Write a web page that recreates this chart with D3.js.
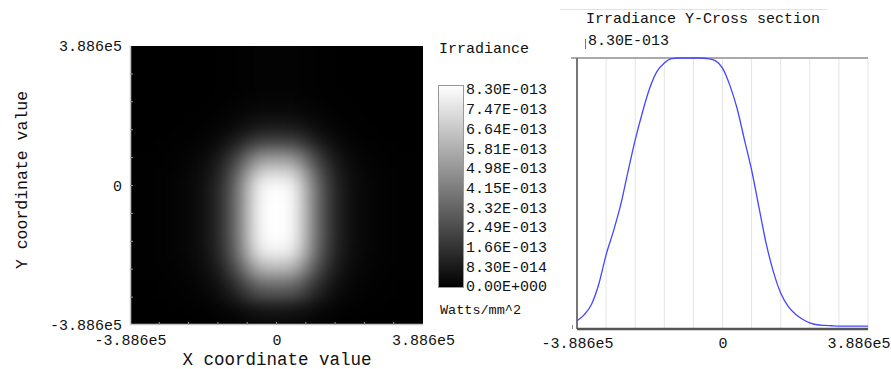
<!DOCTYPE html>
<html><head><meta charset="utf-8">
<script src="https://cdn.jsdelivr.net/npm/d3@7"></script>
<style>
body{margin:0;background:#fff}
svg{display:block}
text{font-family:"Liberation Mono","DejaVu Sans Mono",monospace;fill:#111}
</style>
</head><body>
<svg id="c" width="891" height="369"></svg>
<script>
// ---------------- data ----------------
const extent = 3.886e5;
const axisTickValues = [-3.886e5, 0, 3.886e5];
const axisTickLabels = ["-3.886e5", "0", "3.886e5"];
const colorMax = 8.30e-13;
const colorbarLabels = ["8.30E-013","7.47E-013","6.64E-013","5.81E-013","4.98E-013",
  "4.15E-013","3.32E-013","2.49E-013","1.66E-013","8.30E-014","0.00E+000"];
const crossTitle = "Irradiance Y-Cross section";
const crossMaxLabel = "8.30E-013";
// Irradiance along Y (x = 0), 41 samples from -3.886e5 to 3.886e5, units 1e-13 W/mm^2
const yProfile = [0.25,0.44,0.76,1.38,2.27,2.99,3.80,4.81,5.79,6.64,7.38,7.89,8.15,8.28,
  8.30,8.30,8.30,8.30,8.28,8.22,7.99,7.47,6.76,5.81,4.87,3.74,2.62,1.75,1.10,0.70,
  0.46,0.30,0.19,0.13,0.11,0.10,0.09,0.09,0.09,0.09,0.09];
// Relative irradiance along X (41 samples from -3.886e5 to 3.886e5)
const xProfileRel = [0.002,0.003,0.004,0.005,0.007,0.01,0.014,0.02,0.03,0.045,0.07,0.11,0.17,
  0.26,0.38,0.53,0.70,0.85,0.95,0.99,1.0,0.99,0.95,0.85,0.70,0.53,0.38,0.26,0.17,0.11,
  0.07,0.045,0.03,0.02,0.014,0.01,0.007,0.005,0.004,0.003,0.002];

// ---------------- drawing ----------------
const svg = d3.select("#c");
const N = yProfile.length;
const samples = d3.range(N).map(i => -extent + i * 2 * extent / (N - 1));
const yVals = yProfile.map(v => v * 1e-13);

const color = d3.scaleLinear().domain([0, colorMax]).range(["#000000", "#ffffff"]).clamp(true);

// Heatmap (separable: value = yProfile(y) * xProfileRel(x))
const hx = d3.scaleLinear().domain([-extent, extent]).range([130, 423]);
const hy = d3.scaleLinear().domain([-extent, extent]).range([325, 46]);
const hX0 = hx(-extent), hY0 = hy(extent), hW = hx(extent) - hx(-extent), hH = hy(-extent) - hy(extent);
const defs = svg.append("defs");

const ygrad = defs.append("linearGradient").attr("id", "ygrad")
  .attr("gradientUnits", "userSpaceOnUse")
  .attr("x1", hX0).attr("x2", hX0).attr("y1", hY0).attr("y2", hY0 + hH);
ygrad.selectAll("stop").data(samples.map((s, i) => ({s, v: yVals[i]})).reverse()).join("stop")
  .attr("offset", d => (hy(d.s) - hY0) / hH)
  .attr("stop-color", d => color(d.v));

const xgrad = defs.append("linearGradient").attr("id", "xgrad")
  .attr("gradientUnits", "userSpaceOnUse")
  .attr("x1", hX0).attr("x2", hX0 + hW).attr("y1", hY0).attr("y2", hY0);
xgrad.selectAll("stop").data(samples.map((s, i) => ({s, r: xProfileRel[i]}))).join("stop")
  .attr("offset", d => (hx(d.s) - hX0) / hW)
  .attr("stop-color", "#ffffff")
  .attr("stop-opacity", d => d.r);

const xmask = defs.append("mask").attr("id", "xmask")
  .attr("maskUnits", "userSpaceOnUse")
  .attr("x", hX0).attr("y", hY0).attr("width", hW).attr("height", hH)
  .style("mask-type", "alpha");
xmask.append("rect").attr("x", hX0).attr("y", hY0).attr("width", hW).attr("height", hH)
  .attr("fill", "url(#xgrad)");

svg.append("rect").attr("x", hX0).attr("y", hY0).attr("width", hW).attr("height", hH).attr("fill", "#000");
svg.append("rect").attr("x", hX0).attr("y", hY0).attr("width", hW).attr("height", hH)
  .attr("fill", "url(#ygrad)").attr("mask", "url(#xmask)");

// heatmap frame ticks (light gray)
const gridVals = d3.range(11).map(k => -extent + k * extent / 5);
svg.append("line").attr("x1", 130.5).attr("x2", 130.5).attr("y1", 46).attr("y2", 325)
  .attr("stroke", "#c8c8c8").attr("stroke-width", 1.5);
svg.append("line").attr("x1", 130).attr("x2", 423).attr("y1", 324.5).attr("y2", 324.5)
  .attr("stroke", "#c8c8c8").attr("stroke-width", 1.5);
svg.append("g").selectAll("line").data(gridVals.slice(1, -1)).join("line")
  .attr("x1", 130).attr("x2", 133).attr("y1", d => hy(d)).attr("y2", d => hy(d))
  .attr("stroke", "#999");
svg.append("g").selectAll("line").data(gridVals.slice(1, -1)).join("line")
  .attr("y1", 325).attr("y2", 322).attr("x1", d => hx(d)).attr("x2", d => hx(d))
  .attr("stroke", "#999");

// heatmap axes labels
const leftAx = svg.append("g").attr("transform", "translate(130,0)")
  .call(d3.axisLeft(hy).tickValues(axisTickValues).tickFormat((d, i) => axisTickLabels[i]).tickSize(0).tickPadding(8));
leftAx.select(".domain").remove();
leftAx.selectAll("text").attr("font-size", 15).attr("font-family", null).attr("fill", "#111");
const botAx = svg.append("g").attr("transform", "translate(0,325)")
  .call(d3.axisBottom(hx).tickValues(axisTickValues).tickFormat((d, i) => axisTickLabels[i]).tickSize(0).tickPadding(9));
botAx.select(".domain").remove();
botAx.selectAll("text").attr("font-size", 15).attr("font-family", null).attr("fill", "#111");

svg.append("text").attr("x", 277).attr("y", 365).attr("text-anchor", "middle")
  .attr("font-size", 17.5).text("X coordinate value");
svg.append("text").attr("transform", "translate(27,180) rotate(-90)").attr("text-anchor", "middle")
  .attr("font-size", 16.5).text("Y coordinate value");

// Colorbar
const grad = defs.append("linearGradient").attr("id", "cbar").attr("x1", 0).attr("x2", 0).attr("y1", 1).attr("y2", 0);
grad.append("stop").attr("offset", 0).attr("stop-color", color(0));
grad.append("stop").attr("offset", 1).attr("stop-color", color(colorMax));
svg.append("rect").attr("x", 438.5).attr("y", 85.5).attr("width", 25).attr("height", 202)
  .attr("fill", "url(#cbar)").attr("stroke", "#999").attr("stroke-width", 1);
const cbScale = d3.scaleLinear().domain([0, colorbarLabels.length - 1]).range([89, 286]);
svg.append("g").selectAll("text").data(colorbarLabels).join("text")
  .attr("x", 466).attr("y", (d, i) => cbScale(i)).attr("dy", "0.36em")
  .attr("font-size", 15).text(d => d);
svg.append("text").attr("x", 439).attr("y", 53).attr("font-size", 15).text("Irradiance");
svg.append("text").attr("x", 440).attr("y", 314).attr("font-size", 13.5).text("Watts/mm^2");

// Cross section
const cx = d3.scaleLinear().domain([-extent, extent]).range([577, 868]);
const cy = d3.scaleLinear().domain([0, colorMax]).range([329, 58]);
svg.append("line").attr("x1", 560).attr("x2", 827).attr("y1", 9.5).attr("y2", 9.5).attr("stroke", "#e2e2e2");
svg.append("text").attr("x", 586).attr("y", 23).attr("font-size", 15).text(crossTitle);
svg.append("text").attr("x", 588).attr("y", 45).attr("font-size", 15).text(crossMaxLabel);
svg.append("line").attr("x1", 585.5).attr("x2", 585.5).attr("y1", 39).attr("y2", 49).attr("stroke", "#777");

svg.append("g").selectAll("line").data(gridVals).join("line")
  .attr("x1", d => cx(d)).attr("x2", d => cx(d)).attr("y1", cy(colorMax)).attr("y2", cy(0))
  .attr("stroke", "#e4e4e4").attr("stroke-width", 1);
svg.append("line").attr("x1", 571).attr("x2", 868).attr("y1", cy(colorMax)).attr("y2", cy(colorMax))
  .attr("stroke", "#aaaaaa").attr("stroke-width", 2);
svg.append("line").attr("x1", cx(-extent)).attr("x2", cx(-extent)).attr("y1", cy(colorMax)).attr("y2", cy(0))
  .attr("stroke", "#777").attr("stroke-width", 2);
svg.append("line").attr("x1", cx(-extent)).attr("x2", cx(extent)).attr("y1", cy(0)).attr("y2", cy(0))
  .attr("stroke", "#555").attr("stroke-width", 2.5);
svg.append("line").attr("x1", 572.5).attr("x2", 572.5).attr("y1", 325).attr("y2", 329).attr("stroke", "#888");

const crossAx = svg.append("g").attr("transform", "translate(0,329)")
  .call(d3.axisBottom(cx).tickValues(axisTickValues).tickFormat((d, i) => axisTickLabels[i]).tickSize(0).tickPadding(8));
crossAx.select(".domain").remove();
crossAx.selectAll("text").attr("font-size", 15).attr("font-family", null).attr("fill", "#111");
// last label sits inside the window edge, as in the reference
crossAx.selectAll(".tick").filter(d => d === extent).select("text")
  .attr("text-anchor", "end").attr("x", 890 - cx(extent));

svg.append("path").datum(samples.map((s, i) => [s, yVals[i]]))
  .attr("fill", "none").attr("stroke", "#4646ff").attr("stroke-width", 1.3)
  .attr("d", d3.line().x(d => cx(d[0])).y(d => cy(d[1])).curve(d3.curveMonotoneX));
</script>
</body></html>
